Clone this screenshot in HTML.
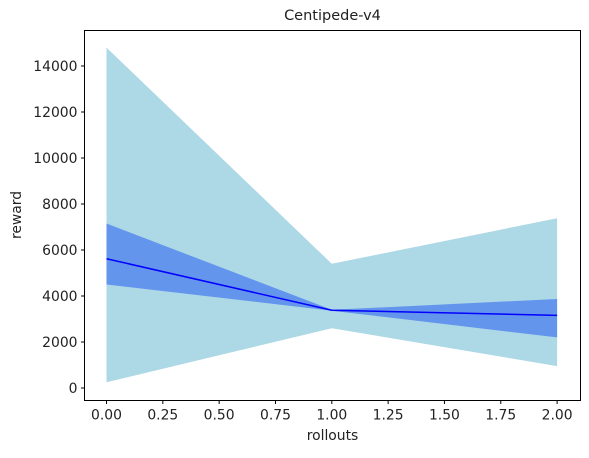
<!DOCTYPE html>
<html><head><meta charset="utf-8"><style>
body{margin:0;background:#fff;}
svg text{font-family:"DejaVu Sans","Liberation Sans",sans-serif;fill:#222;}
</style></head><body>
<svg id="chart" width="589" height="453" xmlns="http://www.w3.org/2000/svg"></svg>
<script>
const xs=[0,1,2];
const mean=[5620,3380,3160];
const outerTop=[14800,5400,7380];
const outerBot=[250,2600,950];
const innerTop=[7150,3400,3870];
const innerBot=[4500,3360,2200];
const xTicks=[0,0.25,0.5,0.75,1.0,1.25,1.5,1.75,2.0];
const yTicks=[0,2000,4000,6000,8000,10000,12000,14000];
const L=84.5,R=580.5,T=30.5,B=400.5;
const X=v=>106.5+v*225.3;
const Y=v=>388-v*0.023;
const svg=document.getElementById('chart');
const NS='http://www.w3.org/2000/svg';
function mk(t,a){const e=document.createElementNS(NS,t);for(const k in a)e.setAttribute(k,a[k]);svg.appendChild(e);return e;}
function band(top,bot,col,name){
  let p=xs.map((x,i)=>X(x)+','+Y(top[i]));
  p=p.concat(xs.slice().reverse().map((x,j)=>{const i=xs.length-1-j;return X(x)+','+Y(bot[i]);}));
  const e=mk('polygon',{points:p.join(' '),fill:col});
  
  
}
band(outerTop,outerBot,'#add8e6','outer-band');
band(innerTop,innerBot,'#6495ed','inner-band');
const ln=mk('polyline',{points:xs.map((x,i)=>X(x)+','+Y(mean[i])).join(' '),fill:'none',stroke:'#0000ff','stroke-width':1.5});


const ax=mk('rect',{x:L,y:T,width:R-L,height:B-T,fill:'none',stroke:'#000','stroke-width':1});


xTicks.forEach(v=>{
  const x=X(v);
  mk('line',{x1:x,x2:x,y1:B,y2:B+3.5,stroke:'#000'});
  const t=mk('text',{x:x,y:B+19,'text-anchor':'middle','font-size':13.9});
  t.textContent=v.toFixed(2);
  
  
});
yTicks.forEach(v=>{
  const y=Y(v);
  mk('line',{x1:L,x2:L-3.5,y1:y,y2:y,stroke:'#000'});
  const t=mk('text',{x:L-7,y:y+5,'text-anchor':'end','font-size':13.9});
  t.textContent=v;
  
  
});
const tt=mk('text',{x:(L+R)/2,y:20,'text-anchor':'middle','font-size':14.5});
tt.textContent='Centipede-v4';


const xl=mk('text',{x:(L+R)/2,y:440,'text-anchor':'middle','font-size':13.9});
xl.textContent='rollouts';


const yl=mk('text',{x:0,y:0,'text-anchor':'middle','font-size':13.9,transform:'translate(21,215) rotate(-90)'});
yl.textContent='reward';


</script>
</body></html>
